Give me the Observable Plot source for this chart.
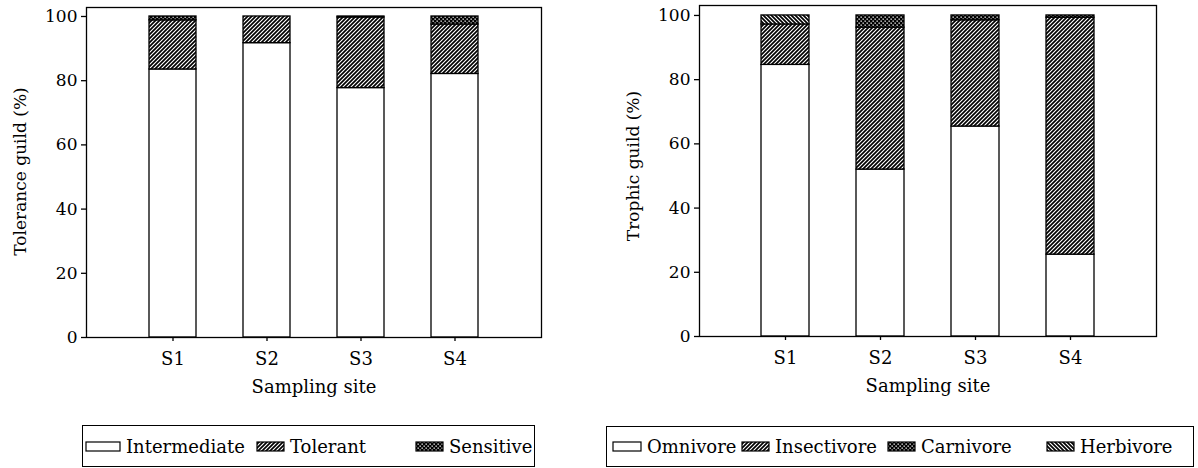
<!DOCTYPE html>
<html><head><meta charset="utf-8">
<script src="https://cdn.jsdelivr.net/npm/d3@7"></script>
<script src="https://cdn.jsdelivr.net/npm/@observablehq/plot@0.6"></script>
<style>
html,body{margin:0;padding:0;background:white;}
body{width:1198px;height:468px;position:relative;overflow:hidden;font-family:"DejaVu Serif",serif;color:black;}
.chart{position:absolute;top:0;}
.legend{position:absolute;border:1.3px solid black;box-sizing:border-box;}
.item{position:absolute;top:0;height:100%;display:flex;align-items:center;white-space:nowrap;}
.item svg{margin-right:5px;display:block;}
</style></head><body>
<svg width="0" height="0" style="position:absolute">
<defs>
<pattern id="hatchF" patternUnits="userSpaceOnUse" width="4" height="4"><rect width="4" height="4" fill="white"/><path d="M-1,1 l2,-2 M0,4 l4,-4 M3,5 l2,-2" stroke="black" stroke-width="1.7"/></pattern>
<pattern id="hatchB" patternUnits="userSpaceOnUse" width="4" height="4"><rect width="4" height="4" fill="white"/><path d="M-1,3 l2,2 M0,0 l4,4 M3,-1 l2,2" stroke="black" stroke-width="1.7"/></pattern>
<pattern id="dots" patternUnits="userSpaceOnUse" width="4" height="4"><rect width="4" height="4" fill="black"/><rect x="0.5" y="0.5" width="1.3" height="1.3" fill="white"/><rect x="2.5" y="2.5" width="1.3" height="1.3" fill="white"/></pattern>
</defs></svg>
<div id="left" class="chart" style="left:0px"></div>
<div id="right" class="chart" style="left:580px"></div>
<script>
// ---- data ----
const sites = ["S1", "S2", "S3", "S4"];
const yTicks = [0, 20, 40, 60, 80, 100];
const xLabel = "Sampling site";

const toleranceLabel = "Tolerance guild (%)";
const toleranceGuilds = ["Intermediate", "Tolerant", "Sensitive"];
const intermediate = [83.5, 91.7, 77.7, 82.1];
const tolerant = [15.3, 8.3, 22.0, 15.4];
const sensitive = [1.2, 0, 0.3, 2.5];

const trophicLabel = "Trophic guild (%)";
const trophicGuilds = ["Omnivore", "Insectivore", "Carnivore", "Herbivore"];
const omnivore = [84.6, 52.0, 65.4, 25.5];
const insectivore = [12.6, 44.2, 33.1, 73.8];
const carnivore = [0, 3.8, 1.5, 0.7];
const herbivore = [2.8, 0, 0, 0];

// ---- build tables ----
function table(guilds, series) {
  const rows = [];
  sites.forEach((s, i) => guilds.forEach((g, j) => rows.push({site: s, guild: g, value: series[j][i]})));
  return rows;
}
const tolData = table(toleranceGuilds, [intermediate, tolerant, sensitive]);
const troData = table(trophicGuilds, [omnivore, insectivore, carnivore, herbivore]);

function chart({data, guilds, fills, yLabel, width, height, mL, mR, mT, mB, yMax, labelDy}) {
  return Plot.plot({
    width, height, marginLeft: mL, marginRight: mR, marginTop: mT, marginBottom: mB,
    style: {fontFamily: "DejaVu Serif", fontSize: "17px", color: "black", background: "white", overflow: "visible"},
    x: {domain: sites, paddingInner: 0.5, paddingOuter: 0.65},
    y: {domain: [0, yMax]},
    color: {type: "ordinal", domain: guilds, range: fills},
    marks: [
      Plot.barY(data, Plot.stackY({x: "site", y: "value", fill: "guild", stroke: "black", strokeWidth: 1.3})),
      Plot.frame({stroke: "black", strokeWidth: 1.3}),
      Plot.axisY({ticks: yTicks, tickSize: 5, tickPadding: 4, label: null, strokeWidth: 1.3}),
      Plot.axisX({tickSize: 4, tickPadding: 11, label: null, strokeWidth: 1.3, fontSize: 18}),
      Plot.text([yLabel], {text: d => d, frameAnchor: "left", textAnchor: "middle", lineAnchor: "middle",
        rotate: -90, dx: -66, dy: labelDy, fontSize: 17}),
      Plot.text([xLabel], {text: d => d, frameAnchor: "bottom", dy: 55, fontSize: 18})
    ]
  });
}

const leftPlot = chart({data: tolData, guilds: toleranceGuilds, fills: ["white", "url(#hatchF)", "url(#dots)"],
  yLabel: toleranceLabel, width: 560, height: 400, mL: 86, mR: 19, mT: 7, mB: 63, yMax: 102.8, labelDy: -1});
const rightPlot = chart({data: troData, guilds: trophicGuilds, fills: ["white", "url(#hatchF)", "url(#dots)", "url(#hatchB)"],
  yLabel: trophicLabel, width: 618, height: 400, mL: 119, mR: 42, mT: 5, mB: 64, yMax: 103.1, labelDy: -5});
document.getElementById("left").appendChild(leftPlot);
document.getElementById("right").appendChild(rightPlot);

function legend(plot, box, lefts, swWidths, fontSize) {
  const sc = plot.scale("color");
  const div = d3.select("body").append("div").attr("class", "legend")
    .style("left", box.left + "px").style("top", box.top + "px")
    .style("width", box.width + "px").style("height", box.height + "px")
    .style("font-size", fontSize + "px");
  sc.domain.forEach((g, i) => {
    const it = div.append("div").attr("class", "item").style("left", lefts[i] + "px");
    const sw = it.append("svg").attr("width", swWidths[i] + 2).attr("height", 11);
    sw.append("rect").attr("x", 1).attr("y", 1).attr("width", swWidths[i]).attr("height", 9)
      .attr("fill", sc.range[i]).attr("stroke", "black").attr("stroke-width", 1.2);
    it.append("span").text(g);
  });
}
legend(leftPlot, {left: 82, top: 425, width: 453, height: 42}, [2, 173, 332], [34, 27, 27], 18);
legend(rightPlot, {left: 606, top: 426, width: 588, height: 41}, [5, 134, 280, 439], [28, 27, 27, 27], 18);
</script>
</body></html>
